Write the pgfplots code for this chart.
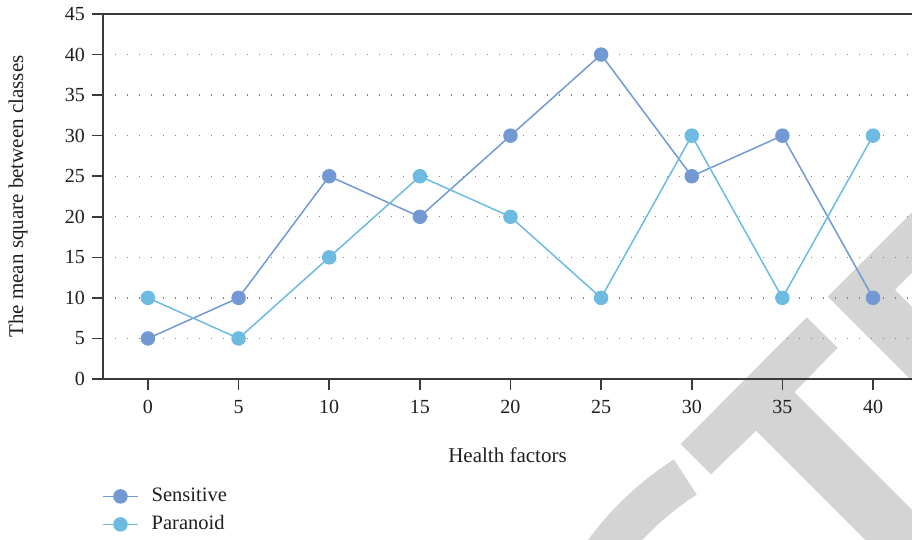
\documentclass[border=0pt]{standalone}
\usepackage{fontspec}
\setmainfont{Liberation Serif}
\usepackage{pgfplots}
\pgfplotsset{compat=1.18}

\definecolor{sensitive}{HTML}{7399D4}
\definecolor{paranoid}{HTML}{6DBBE0}
\definecolor{axisgray}{HTML}{3A3A3A}
\definecolor{wm}{HTML}{D4D4D4}

\pgfplotstableread{
x  y
0  5
5  10
10 25
15 20
20 30
25 40
30 25
35 30
40 10
}\sensitivetab

\pgfplotstableread{
x  y
0  10
5  5
10 15
15 25
20 20
25 10
30 30
35 10
40 30
}\paranoidtab

\begin{document}
\begin{tikzpicture}
% publisher logo in the background (units of 0.5pt, page origin at lower left)
\begin{scope}[x=0.5pt, y=0.5pt, shift={(-103,-161)}]
\fill[wm] (680.7,96) -- (806.7,222.7) -- (837.7,192.3) -- (794.3,147.7)
  -- (994.3,-52.3) -- (956,-90.7) -- (756,109.3) -- (711,65.7) -- cycle;
\fill[wm] (977.7,393.3) -- (827.7,243.3) -- (977.7,93.3) -- (995,150)
  -- (895,250) -- (995,350) -- cycle;
\draw[wm, line width=21pt] (849,-192) ++(122.7:303)
  arc[start angle=122.7, end angle=200, radius=151.5pt];
\end{scope}

\begin{axis}[
  name=ax,
  at={(0pt,0pt)}, anchor=south west,
  scale only axis, width=404.5pt, height=182.5pt,
  xmin=-2.48, xmax=42.15, ymin=0, ymax=45,
  xtick={0,5,...,40}, ytick={0,5,...,45},
  axis lines=left,
  axis line style={-, axisgray, line width=0.8pt},
  tick align=outside, major tick length=5.5pt,
  tick style={axisgray, line width=0.8pt},
  ymajorgrids,
  grid style={black!50, line width=0.7pt, dash pattern=on 0.7pt off 5.3pt},
  /pgf/number format/assume math mode=true,
  tick label style={font=\fontsize{10}{12}\selectfont, text=black!88},
  xticklabel style={yshift=-1.5pt},
  xlabel={Health factors},
  ylabel={The mean square between classes},
  xlabel style={at={(axis description cs:0.5,-0.2082)}, anchor=center,
    font=\fontsize{10.5}{12}\selectfont, text=black!88},
  ylabel style={at={(axis description cs:-0.1051,0.5)}, anchor=center,
    font=\fontsize{10.5}{12}\selectfont, text=black!88},
  legend style={draw=none, fill=none, at={(axis description cs:-0.0015,-0.285)},
    anchor=north west, inner sep=0pt, row sep=1pt,
    font=\fontsize{10.25}{12}\selectfont, text=black!88,
    nodes={text height=7pt, text depth=2pt, inner sep=2pt},
    /tikz/every odd column/.append style={column sep=4.5pt}},
  legend cell align=left,
  legend image code/.code={
    \draw[#1, line width=0.75pt, mark repeat=2, mark phase=2]
      plot coordinates {(0pt,0pt) (8.75pt,0pt) (17.5pt,0pt)};},
]
\addplot[sensitive, line width=0.75pt, mark=*, mark size=3.25pt,
  mark options={solid, fill=sensitive, draw=sensitive}]
  table[x=x, y=y] {\sensitivetab};
\addlegendentry{Sensitive}
\addplot[paranoid, line width=0.75pt, mark=*, mark size=3.25pt,
  mark options={solid, fill=paranoid, draw=paranoid}]
  table[x=x, y=y] {\paranoidtab};
\addlegendentry{Paranoid}
\end{axis}

% top frame line of the plot area
\draw[axisgray, line width=0.8pt] (ax.north west) -- (ax.north east);

% page frame: 912 x 540 units of 0.5pt
\pgfresetboundingbox
\path[use as bounding box] (-51.5pt,-80.5pt) rectangle (404.5pt,189.5pt);
\end{tikzpicture}
\end{document}
